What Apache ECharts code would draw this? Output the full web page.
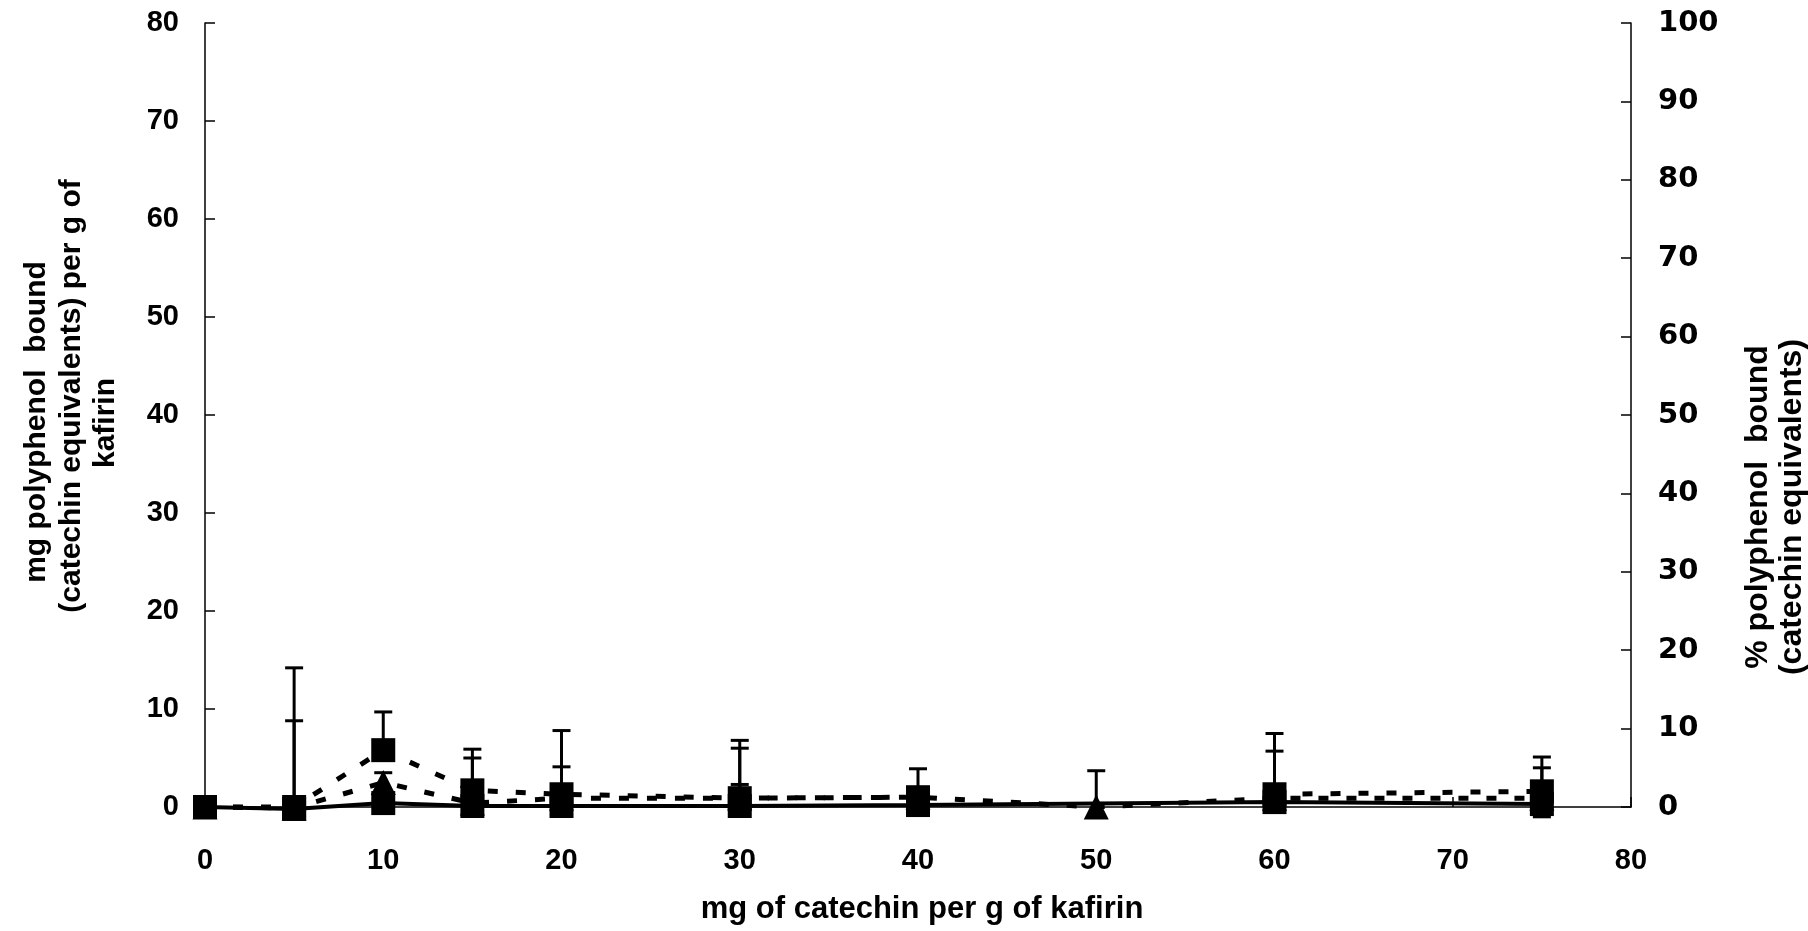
<!DOCTYPE html>
<html>
  <head>
    <meta charset="UTF-8" />
    <title>polyphenol bound</title>
    <script src="https://cdn.jsdelivr.net/npm/echarts@6/dist/echarts.min.js"></script>
    <style>
      html,
      body {
        margin: 0;
        padding: 0;
        background: #fff;
      }
      #main {
        width: 1808px;
        height: 931px;
      }
    </style>
  </head>
  <body>
    <div id="main"></div>
    <script>
      // catechin added (mg per g kafirin)
      var xVals = [0, 5, 10, 15, 20, 30, 40, 50, 60, 75];
      // mg polyphenol bound
      var sqSolid = [0, -0.2, 0.4, 0.1, 0.1, 0.1, 0.2, null, 0.5, 0.3];
      var sqDash = [0, 0, 5.8, 1.7, 1.3, 0.9, 1.0, null, 1.3, 1.6];
      var triDash = [0, -0.1, 2.5, 0.4, 0.9, 0.9, 1.0, 0, 0.9, 0.9];
      // error bar ends
      var sqDashTop = [null, 14.2, 9.7, 5.9, 7.8, 6.8, 3.9, null, 7.5, 5.1];
      var sqSolidTop = [null, 8.8, null, 5.0, 4.1, 6.0, 1.8, null, 5.7, 4.0];
      var sqSolidLow = [null, null, null, null, null, null, null, null, null, -1.0];
      var triTop = [null, null, 3.5, null, null, 2.3, null, 3.7, 2.1, null];
      var xTicks = [0, 10, 20, 30, 40, 50, 60, 70, 80];

      var font = "'Liberation Sans', Arial, sans-serif";
      var wideFont = "'DejaVu Sans', Verdana, sans-serif";
      var dash = [10, 18];

      function pairs(vals) {
        var out = [];
        for (var i = 0; i < xVals.length; i++) {
          out.push([xVals[i], vals[i]]);
        }
        return out;
      }

      function errData(base, ends) {
        var out = [];
        for (var i = 0; i < xVals.length; i++) {
          if (ends[i] == null || base[i] == null) continue;
          out.push([xVals[i], base[i], ends[i]]);
        }
        return out;
      }

      var errAll = []
        .concat(errData(sqDash, sqDashTop))
        .concat(errData(sqSolid, sqSolidTop))
        .concat(errData(sqSolid, sqSolidLow))
        .concat(errData(triDash, triTop));

      function vText(x, y, text, size) {
        return {
          type: "text",
          x: x,
          y: y,
          rotation: Math.PI / 2,
          style: {
            text: text,
            font: "bold " + size + "px " + font,
            fill: "#000",
            align: "center",
            verticalAlign: "middle",
          },
        };
      }

      var myChart = echarts.init(document.getElementById("main"));

      var axisBase = {
        axisLine: { show: true, lineStyle: { color: "#000", width: 1.5 } },
        axisTick: { show: true, inside: true, length: 10, lineStyle: { color: "#000", width: 1.5 } },
        splitLine: { show: false },
        axisLabel: {
          color: "#000",
          fontFamily: font,
          fontWeight: "bold",
          fontSize: 29,
        },
      };

      var option = {
        backgroundColor: "#fff",
        animation: false,
        grid: { left: 205, right: 177, top: 23, bottom: 124 },
        xAxis: echarts.util.merge(
          {
            type: "value",
            min: xTicks[0],
            max: xTicks[xTicks.length - 1],
            interval: 10,
            axisLabel: { margin: 39 },
          },
          axisBase
        ),
        yAxis: [
          echarts.util.merge(
            {
              type: "value",
              position: "left",
              min: 0,
              max: 80,
              interval: 10,
              axisLabel: { margin: 26 },
            },
            axisBase
          ),
          echarts.util.merge(
            {
              type: "value",
              position: "right",
              min: 0,
              max: 100,
              interval: 10,
              axisLabel: { margin: 27, align: "left", fontFamily: wideFont, fontSize: 29 },
            },
            axisBase
          ),
        ],
        graphic: [
          vText(37, 422, "mg polyphenol  bound", 30),
          vText(72, 396, "(catechin equivalents) per g of", 30),
          vText(106, 423, "kafirin", 30),
          vText(1758, 507, "% polyphenol  bound", 32),
          vText(1792, 507, "(catechin equivalents)", 32),
          {
            type: "text",
            x: 922,
            y: 909,
            style: {
              text: "mg of catechin per g of kafirin",
              font: "bold 31px " + font,
              fill: "#000",
              align: "center",
              verticalAlign: "middle",
            },
          },
        ],
        series: [
          {
            // error bars
            type: "custom",
            clip: false,
            z: 1,
            data: errAll,
            renderItem: function (params, api) {
              var p0 = api.coord([api.value(0), api.value(1)]);
              var p1 = api.coord([api.value(0), api.value(2)]);
              var cap = 9;
              var st = { stroke: "#000", lineWidth: 3 };
              return {
                type: "group",
                children: [
                  { type: "line", shape: { x1: p0[0], y1: p0[1], x2: p1[0], y2: p1[1] }, style: st },
                  { type: "line", shape: { x1: p1[0] - cap, y1: p1[1], x2: p1[0] + cap, y2: p1[1] }, style: st },
                ],
              };
            },
          },
          {
            name: "sqDash",
            type: "line",
            clip: false,
            z: 2,
            data: pairs(sqDash),
            connectNulls: false,
            symbol: "rect",
            symbolSize: 24,
            itemStyle: { color: "#000" },
            lineStyle: { color: "#000", width: 5, type: dash },
          },
          {
            name: "triDash",
            type: "line",
            clip: false,
            z: 3,
            data: pairs(triDash),
            symbol: "triangle",
            symbolSize: 25,
            itemStyle: { color: "#000" },
            lineStyle: { color: "#000", width: 5, type: dash },
          },
          {
            name: "sqSolid",
            type: "line",
            clip: false,
            z: 4,
            data: pairs(sqSolid),
            connectNulls: true,
            symbol: "rect",
            symbolSize: 24,
            itemStyle: { color: "#000" },
            lineStyle: { color: "#000", width: 4 },
          },
        ],
      };
      myChart.setOption(option);
    </script>
  </body>
</html>
